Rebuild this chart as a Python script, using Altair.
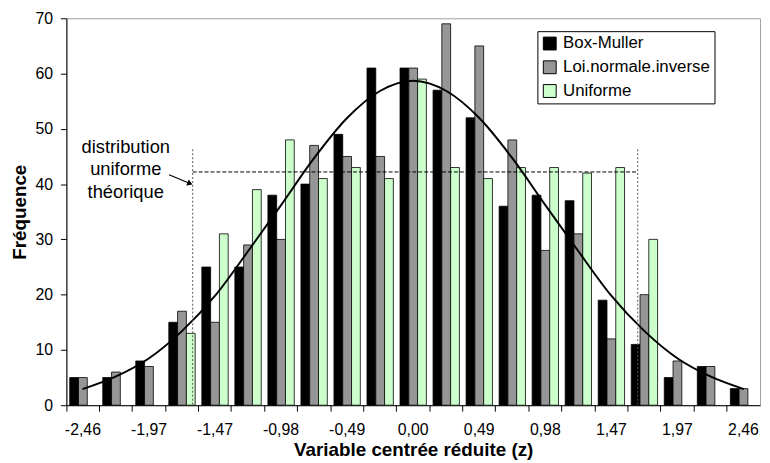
import altair as alt
import pandas as pd

# ---------------- data ----------------
z_values = [-2.46, -2.21, -1.97, -1.72, -1.47, -1.23, -0.98, -0.74, -0.49, -0.25,
            0.00, 0.25, 0.49, 0.74, 0.98, 1.23, 1.47, 1.72, 1.97, 2.21, 2.46]
z_labels = ["-2,46", "-2,21", "-1,97", "-1,72", "-1,47", "-1,23", "-0,98", "-0,74",
            "-0,49", "-0,25", "0,00", "0,25", "0,49", "0,74", "0,98", "1,23", "1,47",
            "1,72", "1,97", "2,21", "2,46"]
shown_labels = ["-2,46", "-1,97", "-1,47", "-0,98", "-0,49", "0,00", "0,49", "0,98",
                "1,47", "1,97", "2,46"]
series = ["Box-Muller", "Loi.normale.inverse", "Uniforme"]
colors = ["#000000", "#969696", "#CCFFCC"]

box_muller = [5, 5, 8, 15, 25, 25, 38, 40, 49, 61, 61, 57, 52, 36, 38, 37, 19, 11, 5, 7, 3]
loi_inverse = [5, 6, 7, 17, 15, 29, 30, 47, 45, 45, 61, 69, 65, 48, 28, 31, 12, 20, 8, 7, 3]
uniforme = [0, 0, 0, 13, 31, 39, 48, 41, 43, 41, 59, 43, 41, 43, 43, 42, 43, 30, 0, 0, 0]

# normal curve, read at each class centre
curve = [2.9, 5.2, 8.4, 13.4, 19.9, 27.8, 36.3, 44.6, 52.0, 56.8, 58.7,
         56.8, 52.0, 44.6, 36.3, 27.8, 19.9, 13.4, 8.4, 5.2, 2.9]

# theoretical uniform distribution
uniform_bounds = [-1.64, 1.67]
uniform_level = 42.2
uniform_top = 46.3

# annotation
annot_text = "distribution\nuniforme\nthéorique"
annot_z, annot_y = -2.138, 45.7
arrow_z = [-1.816, -1.66]
arrow_y = [41.7, 40.1]

z_domain = [-2.5795, 2.5795]

FONT = "Liberation Sans"

# ---------------- tables ----------------
rows = []
for name, vals in zip(series, [box_muller, loi_inverse, uniforme]):
    for lab, v in zip(z_labels, vals):
        rows.append({"cat": lab, "series": name, "value": v})
bars_df = pd.DataFrame(rows)
curve_df = pd.DataFrame({"z": z_values, "f": curve})
hline_df = pd.DataFrame({"z": uniform_bounds, "y": [uniform_level] * 2})
vline_df = pd.DataFrame({"z": uniform_bounds, "top": [uniform_top] * 2, "bottom": [0, 0]})
text_df = pd.DataFrame({"z": [annot_z], "y": [annot_y], "t": [annot_text]})
arrow_df = pd.DataFrame({"z": [arrow_z[0]], "z2": [arrow_z[1]], "y": [arrow_y[0]], "y2": [arrow_y[1]]})
head_df = pd.DataFrame({"z": [arrow_z[1]], "y": [arrow_y[1]]})

label_list = "[" + ",".join("'" + s + "'" for s in shown_labels) + "]"

y_enc_axis = alt.Axis(values=list(range(0, 71, 10)), title="Fréquence", grid=False,
                      tickSize=6, labelPadding=8, labelFontSize=16, labelFont=FONT,
                      labelColor="black", labelFlush=False,
                      titleFont=FONT, titleFontSize=19, titleFontWeight="bold",
                      titleColor="black", titleX=-37, titleY=195.5, titleAngle=270,
                      titleBaseline="bottom", titleAlign="center",
                      domainColor="black", tickColor="black")
y_scale = alt.Scale(domain=[0, 70], nice=False)

bars = alt.Chart(bars_df).transform_filter("datum.value > 0").mark_bar(
    stroke="black", strokeWidth=0.8
).encode(
    x=alt.X("cat:N", sort=z_labels,
            scale=alt.Scale(domain=z_labels, paddingInner=0, paddingOuter=0),
            axis=alt.Axis(title="Variable centrée réduite (z)", bandPosition=0,
                          labelExpr="indexof(" + label_list + ", datum.value) >= 0 ? datum.value : ''",
                          labelAngle=0, labelOverlap=False, tickSize=6, labelPadding=24,
                          labelBaseline="alphabetic", labelFontSize=16, labelFont=FONT,
                          labelColor="black", grid=False,
                          titleFont=FONT, titleFontSize=19, titleFontWeight="bold",
                          titleColor="black", titleY=51, titleBaseline="alphabetic",
                          domainColor="black", tickColor="black")),
    xOffset=alt.XOffset("series:N", sort=series,
                        scale=alt.Scale(domain=series, paddingInner=0, paddingOuter=0.38)),
    y=alt.Y("value:Q", scale=y_scale, axis=y_enc_axis),
    color=alt.Color("series:N", sort=series,
                    scale=alt.Scale(domain=series, range=colors),
                    legend=alt.Legend(orient="none", legendX=476, legendY=13, title=None,
                                      symbolType="square", symbolSize=169,
                                      symbolStrokeColor="black", symbolStrokeWidth=1,
                                      labelFontSize=17, labelFont=FONT, labelColor="black",
                                      labelOffset=5, padding=4, rowPadding=6,
                                      strokeColor="black", fillColor="white")),
)

xq = alt.X("z:Q", scale=alt.Scale(domain=z_domain, nice=False, zero=False), axis=None)

curve_layer = alt.Chart(curve_df).mark_line(
    color="black", strokeWidth=2, interpolate="monotone"
).encode(x=xq, y=alt.Y("f:Q", scale=y_scale))

hline = alt.Chart(hline_df).mark_line(
    color="black", strokeWidth=1, strokeDash=[4, 2]
).encode(x=xq, y=alt.Y("y:Q", scale=y_scale))

vlines = alt.Chart(vline_df).mark_rule(
    color="#555555", strokeWidth=1, strokeDash=[2, 2]
).encode(x=xq, y=alt.Y("top:Q", scale=y_scale), y2="bottom:Q")

annot = alt.Chart(text_df).mark_text(
    align="center", baseline="alphabetic", fontSize=18.5, lineHeight=23,
    lineBreak="\n", font=FONT, color="black"
).encode(x=xq, y=alt.Y("y:Q", scale=y_scale), text="t:N")

arrow = alt.Chart(arrow_df).mark_rule(color="black", strokeWidth=1.2).encode(
    x=xq, x2="z2:Q", y=alt.Y("y:Q", scale=y_scale), y2="y2:Q")

head = alt.Chart(head_df).mark_point(
    shape="triangle-right", angle=23, size=40, filled=True, color="black", opacity=1
).encode(x=xq, y=alt.Y("y:Q", scale=y_scale))

chart = alt.layer(bars, curve_layer, hline, vlines, annot, arrow, head).resolve_scale(
    x="independent"
).properties(
    width=701, height=391,
    autosize=alt.AutoSizeParams(type="none"),
    padding={"left": 59, "top": 8, "right": 2, "bottom": 55},
).configure_view(
    stroke="#a0a0a0", strokeWidth=1
)

chart.save("out.html", embed_options={"renderer": "svg", "actions": False})
